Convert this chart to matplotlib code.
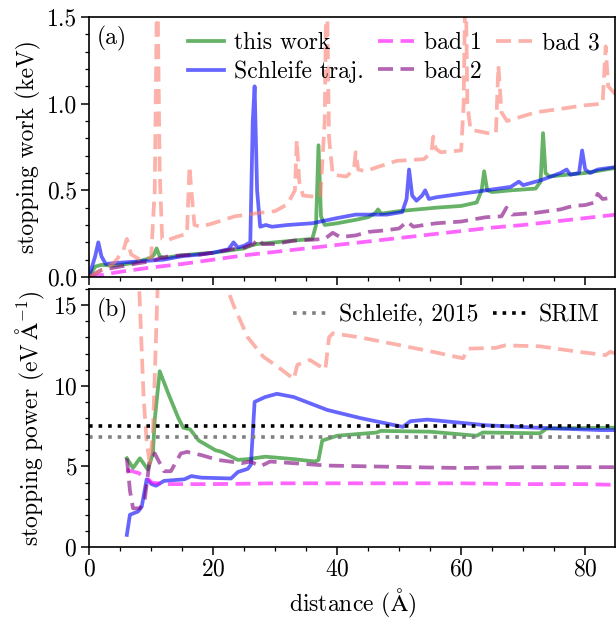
import matplotlib
matplotlib.use('Agg')
import matplotlib.pyplot as plt
from matplotlib.ticker import MultipleLocator

plt.rcParams.update({
    'font.family': 'serif',
    'font.serif': ['cmr10'],
    'mathtext.fontset': 'cm',
    'axes.formatter.use_mathtext': True,
    'axes.unicode_minus': False,
    'font.size': 17,
})

# ---------------- panel (a): stopping work (keV) ----------------
work_green_x = [0, 1, 2, 4, 7, 10, 10.5, 10.9, 11.4, 12, 15, 18, 20, 23, 25, 26, 27, 30, 33, 36,
                36.6, 37.0, 37.4, 38, 40, 43, 45, 46.2, 46.6, 47.1, 48, 50, 53, 56, 60, 62.5,
                63.3, 63.7, 64.2, 65, 68, 72, 72.8, 73.2, 73.6, 74.2, 77, 80, 85]
work_green_y = [0, 0.06, 0.07, 0.065, 0.08, 0.11, 0.13, 0.165, 0.12, 0.11, 0.125, 0.135, 0.14, 0.155,
                0.165, 0.18, 0.19, 0.2, 0.21, 0.22,
                0.3, 0.76, 0.35, 0.3, 0.31, 0.33, 0.345, 0.37, 0.39, 0.365, 0.37, 0.38, 0.39, 0.40,
                0.41, 0.43, 0.5, 0.61, 0.5, 0.49, 0.5, 0.51, 0.55, 0.83, 0.6, 0.58, 0.59, 0.6, 0.63]

work_blue_x = [0, 1.0, 1.5, 2.0, 2.7, 4, 8, 12, 15, 18, 20, 22.5, 23.3, 24, 25, 26.0, 26.4, 26.7,
               27.1, 27.6, 28.5, 29.5, 32, 36, 40, 43, 48, 50.5, 51.2, 51.6, 52.1, 52.8, 53.7,
               54.2, 54.8, 56, 60, 64, 68, 69.3, 70, 73, 76, 77, 77.6, 79, 79.5, 80, 80.8, 82, 85]
work_blue_y = [0, 0.12, 0.20, 0.12, 0.075, 0.08, 0.09, 0.10, 0.12, 0.13, 0.14, 0.16, 0.2, 0.17,
               0.18, 0.2, 0.9, 1.10, 0.5, 0.29, 0.30, 0.29, 0.30, 0.31, 0.34, 0.36, 0.36, 0.375,
               0.45, 0.62, 0.47, 0.44, 0.47, 0.50, 0.45, 0.46, 0.48, 0.50, 0.52, 0.55, 0.53, 0.56,
               0.60, 0.62, 0.59, 0.60, 0.73, 0.62, 0.60, 0.62, 0.635]

work_bad1_x = [0, 5, 10, 15, 20, 25, 30, 35, 40, 45, 50, 55, 60, 65, 70, 75, 80, 85]
work_bad1_y = [0, 0.03, 0.055, 0.075, 0.10, 0.125, 0.145, 0.165, 0.185, 0.205, 0.225, 0.245,
               0.265, 0.285, 0.30, 0.32, 0.34, 0.36]

work_bad2_x = [0, 2, 5, 8, 10, 11.5, 13, 15, 18, 20, 23, 25, 26.5, 27.3, 28, 30, 33, 36, 38,
               39.3, 40.5, 43, 45, 48, 50, 51.3, 52.3, 54, 56, 60, 64, 66.5, 67.3, 68.2, 72, 76,
               78, 80, 81.5, 82, 82.8, 85]
work_bad2_y = [0, 0.04, 0.06, 0.08, 0.09, 0.11, 0.12, 0.125, 0.13, 0.14, 0.16, 0.17, 0.19, 0.22,
               0.19, 0.19, 0.21, 0.215, 0.22, 0.255, 0.23, 0.24, 0.26, 0.27, 0.28, 0.32, 0.29,
               0.30, 0.31, 0.32, 0.345, 0.35, 0.40, 0.36, 0.37, 0.39, 0.41, 0.415, 0.43, 0.48,
               0.45, 0.46]

work_bad3_x = [0, 2, 4, 5.5, 6.1, 6.8, 8, 10, 10.6, 11.0, 11.4, 11.8, 12.5, 14, 15.8, 16.2, 16.5,
               17, 18, 20, 23.5, 27.5, 30, 32, 33.2, 33.5, 33.9, 34.5, 37.3, 38.0, 38.3, 38.7,
               39.3, 41.5, 42.7, 43.0, 43.4, 44.5, 47, 49.6, 54, 55.2, 55.5, 55.9, 56.7, 60, 60.4,
               60.7, 61.0, 61.5, 64.3, 65.6, 66.0, 66.5, 67.4, 72, 76, 79.8, 82.8, 83.3, 83.7, 85]
work_bad3_y = [0, 0.04, 0.08, 0.15, 0.22, 0.13, 0.105, 0.11, 0.5, 1.8, 0.6, 0.22, 0.21, 0.23,
               0.25, 0.64, 0.5, 0.30, 0.29, 0.31, 0.35, 0.37, 0.38, 0.42, 0.5, 0.79, 0.55, 0.47,
               0.46, 0.9, 1.8, 0.8, 0.59, 0.58, 0.62, 0.72, 0.62, 0.61, 0.64, 0.67, 0.68, 0.72,
               0.81, 0.74, 0.72, 0.73, 1.0, 1.8, 1.0, 0.85, 0.83, 0.83, 1.22, 0.95, 0.90, 0.95,
               0.97, 0.99, 1.0, 1.33, 1.1, 1.05]

# ---------------- panel (b): stopping power (eV/Å) ----------------
pow_green_x = [6.1, 7.1, 8.2, 9.5, 10.3, 10.6, 11.4, 12.8, 14.4, 15.2, 16.3, 17.7, 20.4, 21.4, 24,
               25.6, 28.4, 30, 33, 36.5, 37.0, 37.6, 40, 46.4, 47, 55, 62.5, 63.5, 72.7, 73.8, 85]
pow_green_y = [5.5, 4.9, 5.5, 4.8, 5.8, 7.9, 10.9, 9.5, 8.0, 7.4, 7.3, 6.6, 6.0, 5.9, 5.4,
               5.45, 5.6, 5.55, 5.45, 5.3, 5.4, 6.6, 6.9, 7.1, 7.2, 7.15, 6.9, 7.1, 7.05, 7.35, 7.4]

pow_blue_x = [6.1, 6.6, 7.9, 8.5, 9.3, 10.1, 10.8, 12.1, 15.4, 16.5, 18.1, 22.9, 24, 25.6, 26.1,
              26.7, 28.4, 30.3, 33, 38.4, 43.7, 50.6, 51.8, 54.5, 56, 64, 72, 82.4, 85]
pow_blue_y = [0.75, 2.0, 2.2, 2.5, 4.2, 3.9, 3.8, 4.1, 4.2, 4.4, 4.3, 4.25, 4.65, 4.85, 5.1,
              9.0, 9.3, 9.5, 9.3, 8.5, 8.0, 7.45, 7.8, 7.9, 7.85, 7.55, 7.4, 7.25, 7.25]

pow_bad1_x = [6.1, 6.4, 7.9, 9.3, 10.1, 12.1, 20, 30, 40, 50, 60, 70, 80, 85]
pow_bad1_y = [4.8, 4.75, 4.6, 4.3, 4.0, 3.9, 3.9, 3.95, 3.95, 3.95, 3.95, 3.9, 3.9, 3.85]

pow_bad2_x = [6.1, 6.6, 7.1, 8.2, 9.0, 9.5, 9.8, 10.6, 12.1, 13.2, 14.8, 15.8, 18.1, 20.8, 24.6,
              26.1, 27.6, 29.2, 38.4, 51.9, 60, 70, 85]
pow_bad2_y = [5.5, 3.5, 2.4, 2.4, 3.0, 4.5, 5.5, 5.8, 4.7, 4.7, 5.8, 5.9, 5.7, 5.4, 5.2,
              5.3, 5.0, 5.3, 5.05, 4.95, 4.9, 4.95, 4.95]

pow_bad3_x = [6.1, 7.0, 8.0, 8.8, 9.3, 9.8, 10.3, 10.8, 11.1, 11.5, 17, 22.2, 23.4, 25.6, 28.1,
              30, 32.4, 33, 33.6, 35.6, 38.1, 38.7, 39.3, 43.7, 49, 55.5, 60.3, 61.1, 65.6, 67,
              72.6, 79, 83.3, 84, 85]
pow_bad3_y = [40, 28, 17, 9.3, 6.5, 5.2, 7.0, 13, 16.5, 22, 24, 16.1, 14.9, 13.0, 11.8,
              11.3, 10.6, 10.4, 11.3, 11.6, 11.0, 13.0, 13.25, 13.0, 12.6, 12.1, 11.7, 12.3,
              12.35, 12.5, 12.45, 12.1, 11.9, 12.1, 12.0]

schleife_2015 = 6.8
srim = 7.5

labels = ['this work', 'Schleife traj.', 'bad 1', 'bad 2', 'bad 3']
colors = ['green', 'blue', 'magenta', 'purple', 'salmon']
styles = ['-', '-', '--', '--', '--']

fig = plt.figure(figsize=(6.16, 6.24), dpi=100)
W, H = 616, 624
ax1 = fig.add_axes([89 / W, 1 - 277 / H, (615 - 89) / W, (277 - 17) / H])
ax2 = fig.add_axes([89 / W, 1 - 547 / H, (615 - 89) / W, (547 - 289) / H])

work = [(work_green_x, work_green_y), (work_blue_x, work_blue_y), (work_bad1_x, work_bad1_y),
        (work_bad2_x, work_bad2_y), (work_bad3_x, work_bad3_y)]
power = [(pow_green_x, pow_green_y), (pow_blue_x, pow_blue_y), (pow_bad1_x, pow_bad1_y),
         (pow_bad2_x, pow_bad2_y), (pow_bad3_x, pow_bad3_y)]

LW = 2.7
for (x, y), lab, c, ls in zip(work, labels, colors, styles):
    kw = dict(dashes=(4, 2)) if ls == '--' else {}
    ax1.plot(x, y, ls, color=c, alpha=0.6, lw=LW, label=lab, **kw)
for (x, y), c, ls in zip(power, colors, styles):
    kw = dict(dashes=(4, 2)) if ls == '--' else {}
    ax2.plot(x, y, ls, color=c, alpha=0.6, lw=LW, **kw)

ax2.axhline(schleife_2015, color='gray', ls=':', lw=2.6, label='Schleife, 2015')
ax2.axhline(srim, color='black', ls=':', lw=2.6, label='SRIM')

for ax in (ax1, ax2):
    ax.set_xlim(0, 84.8)
    ax.xaxis.set_major_locator(MultipleLocator(20))
    ax.xaxis.set_minor_locator(MultipleLocator(5))
    ax.tick_params(which='major', direction='out', length=5.5, width=1.1, pad=3)
    ax.tick_params(which='minor', direction='out', length=3, width=0.9)
    for s in ax.spines.values():
        s.set_linewidth(1.2)

ax1.set_ylim(0, 1.5)
ax1.yaxis.set_major_locator(MultipleLocator(0.5))
ax1.yaxis.set_minor_locator(MultipleLocator(0.1))
ax1.tick_params(labelbottom=False)
ax1.yaxis.set_major_formatter(matplotlib.ticker.FormatStrFormatter('%.1f'))

ax2.set_ylim(0, 16)
ax2.yaxis.set_major_locator(MultipleLocator(5))
ax2.yaxis.set_minor_locator(MultipleLocator(1))

ax1.set_ylabel('stopping work (keV)')
ax2.set_ylabel(r'stopping power (eV$\,\mathrm{\AA}^{-1}$)')
ax2.set_xlabel(r'distance ($\mathrm{\AA}$)')
fig.align_ylabels([ax1, ax2])

ax1.text(0.015, 0.965, '(a)', transform=ax1.transAxes, va='top', ha='left')
ax2.text(0.015, 0.965, '(b)', transform=ax2.transAxes, va='top', ha='left')

ax1.legend(loc='upper right', ncol=3, frameon=False, handlelength=1.55, handletextpad=0.4,
           columnspacing=0.6, borderaxespad=0.25, labelspacing=0.25)
ax2.legend(loc='upper right', ncol=2, frameon=False, handlelength=1.55, handletextpad=0.4,
           columnspacing=0.6, borderaxespad=0.25)

fig.savefig('out.png', dpi=100)
